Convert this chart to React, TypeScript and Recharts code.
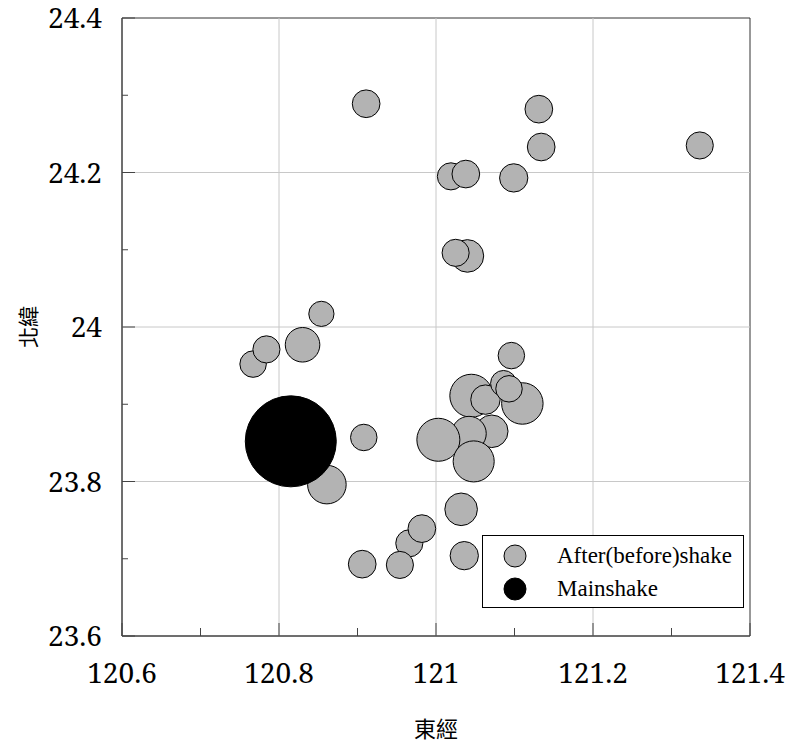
import React from 'react'
import {
  ScatterChart,
  Scatter,
  XAxis,
  YAxis,
  ZAxis,
  Legend,
  Label,
  ReferenceLine,
  ReferenceArea,
} from 'recharts'

// aftershocks (drawn in this order, later ones sit on top)
const afterLon = [
  120.911, 121.131, 121.134, 121.336, 121.019, 121.038, 121.099, 121.040, 121.025,
  120.854, 120.830, 120.767, 120.784, 120.908, 120.861,
  121.096, 121.045, 121.063, 121.086, 121.110, 121.093,
  121.071, 121.042, 121.003, 121.048,
  120.966, 120.982, 120.954, 120.906, 121.032, 121.036,
]
const afterLat = [
  24.289, 24.282, 24.233, 24.235, 24.195, 24.198, 24.193, 24.092, 24.096,
  24.017, 23.977, 23.952, 23.971, 23.857, 23.796,
  23.963, 23.911, 23.906, 23.927, 23.901, 23.920,
  23.865, 23.862, 23.854, 23.826,
  23.720, 23.739, 23.692, 23.693, 23.764, 23.704,
]
const afterMag = [
  5.01, 5.01, 5.01, 5.0, 5.0, 5.01, 5.02, 5.1, 5.0,
  4.97, 5.14, 4.99, 5.0, 4.99, 5.23,
  4.99, 5.34, 5.04, 4.98, 5.3, 4.99,
  5.1, 5.14, 5.34, 5.29,
  5.0, 5.01, 5.0, 5.01, 5.1, 5.02,
]

const mainLon = [120.815]
const mainLat = [23.852]
const mainMag = [7.3]

const xTicks = [120.6, 120.7, 120.8, 120.9, 121.0, 121.1, 121.2, 121.3, 121.4]
const yTicks = [23.6, 23.7, 23.8, 23.9, 24.0, 24.1, 24.2, 24.3, 24.4]
const xGrid = [120.8, 121.0, 121.2]
const yGrid = [23.8, 24.0, 24.2]

const afterData = afterLon.map((lon, i) => ({ lon, lat: afterLat[i], mag: afterMag[i] }))
const mainData = mainLon.map((lon, i) => ({ lon, lat: mainLat[i], mag: mainMag[i] }))

const serif = '"Liberation Serif", "Times New Roman", serif'
const digits = '"Noto Serif", "Liberation Serif", serif'
const cjk = '"Noto Sans CJK TC", "Noto Sans CJK SC", sans-serif'

const isMajor = (v: number) => Math.round(v * 10) % 2 === 0
const fmt = (v: number) => String(Number(v.toFixed(1)))

const XTick = (props: any) => {
  const { x, y, payload } = props
  const major = isMajor(payload.value)
  return (
    <g>
      <line x1={x} y1={y} x2={x} y2={y - (major ? 13 : 8)} stroke="#444" />
      {major && (
        <text x={x} y={y + 47} textAnchor="middle" fontSize={28} fontFamily={digits} fill="#000">
          {fmt(payload.value)}
        </text>
      )}
    </g>
  )
}

const YTick = (props: any) => {
  const { x, y, payload } = props
  const major = isMajor(payload.value)
  return (
    <g>
      <line x1={x} y1={y} x2={x + (major ? 13 : 6)} y2={y} stroke="#444" />
      {major && (
        <text x={x - 20} y={y + 10} textAnchor="end" fontSize={28} fontFamily={digits} fill="#000">
          {fmt(payload.value)}
        </text>
      )}
    </g>
  )
}

const XTitle = (props: any) => {
  const vb = props.viewBox || { x: 122, y: 636, width: 628 }
  return (
    <text x={vb.x + vb.width / 2} y={vb.y + 101} textAnchor="middle" fontSize={22} fontFamily={cjk} fill="#000">
      東經
    </text>
  )
}

const YTitle = (props: any) => {
  const vb = props.viewBox || { x: 0, y: 18, height: 618 }
  const cx = 27
  const cy = vb.y + vb.height / 2
  return (
    <text
      x={cx}
      y={cy}
      transform={`rotate(-90, ${cx}, ${cy})`}
      textAnchor="middle"
      dominantBaseline="central"
      fontSize={21}
      fontFamily={cjk}
      fill="#000"
    >
      北緯
    </text>
  )
}

const renderLegend = (props: any) => {
  const { payload } = props
  return (
    <div
      style={{
        width: 260,
        height: 68,
        border: '1px solid #000',
        background: '#fff',
        paddingTop: 3,
        boxSizing: 'content-box',
      }}
    >
      {(payload || []).map((entry: any) => (
        <div key={entry.value} style={{ display: 'flex', alignItems: 'center', height: 33 }}>
          <svg width={24} height={24} style={{ marginLeft: 20, marginRight: 30 }}>
            <circle cx={12} cy={12} r={11} fill={entry.color} stroke="#000" strokeWidth={1} />
          </svg>
          <span style={{ fontFamily: serif, fontSize: 23, color: '#000', lineHeight: '33px' }}>
            {entry.value}
          </span>
        </div>
      ))}
    </div>
  )
}

export default function App() {
  return (
    <div style={{ position: 'absolute', left: 0, top: 0, background: '#fff' }}>
      <ScatterChart width={792} height={751} margin={{ top: 18, right: 42, bottom: 0, left: 0 }}>
        {xGrid.map((v) => (
          <ReferenceLine key={'gx' + v} x={v} stroke="#c8c8c8" strokeWidth={1} />
        ))}
        {yGrid.map((v) => (
          <ReferenceLine key={'gy' + v} y={v} stroke="#c8c8c8" strokeWidth={1} />
        ))}
        <XAxis
          type="number"
          dataKey="lon"
          domain={[120.6, 121.4]}
          ticks={xTicks}
          interval={0}
          allowDataOverflow
          height={115}
          tickSize={0}
          tickMargin={0}
          tickLine={false}
          axisLine={{ stroke: '#444' }}
          tick={<XTick />}
        >
          <Label content={<XTitle />} />
        </XAxis>
        <YAxis
          type="number"
          dataKey="lat"
          domain={[23.6, 24.4]}
          ticks={yTicks}
          interval={0}
          allowDataOverflow
          width={122}
          tickSize={0}
          tickMargin={0}
          tickLine={false}
          axisLine={{ stroke: '#444' }}
          tick={<YTick />}
        >
          <Label content={<YTitle />} />
        </YAxis>
        <ZAxis type="number" dataKey="mag" domain={[5, 7.3]} range={[500, 6504]} />
        <ReferenceArea x1={120.6} x2={121.4} y1={23.6} y2={24.4} fill="none" stroke="#333" strokeWidth={1} />
        <Scatter
          name="After(before)shake"
          data={afterData}
          fill="#b3b3b3"
          stroke="#000"
          strokeWidth={1}
          isAnimationActive={false}
        />
        <Scatter
          name="Mainshake"
          data={mainData}
          fill="#000"
          stroke="#000"
          strokeWidth={1}
          isAnimationActive={false}
        />
        <Legend
          layout="vertical"
          align="center"
          verticalAlign="middle"
          content={renderLegend}
          wrapperStyle={{ left: 482, top: 535, width: 262, height: 72, margin: 0, padding: 0 }}
        />
      </ScatterChart>
    </div>
  )
}
